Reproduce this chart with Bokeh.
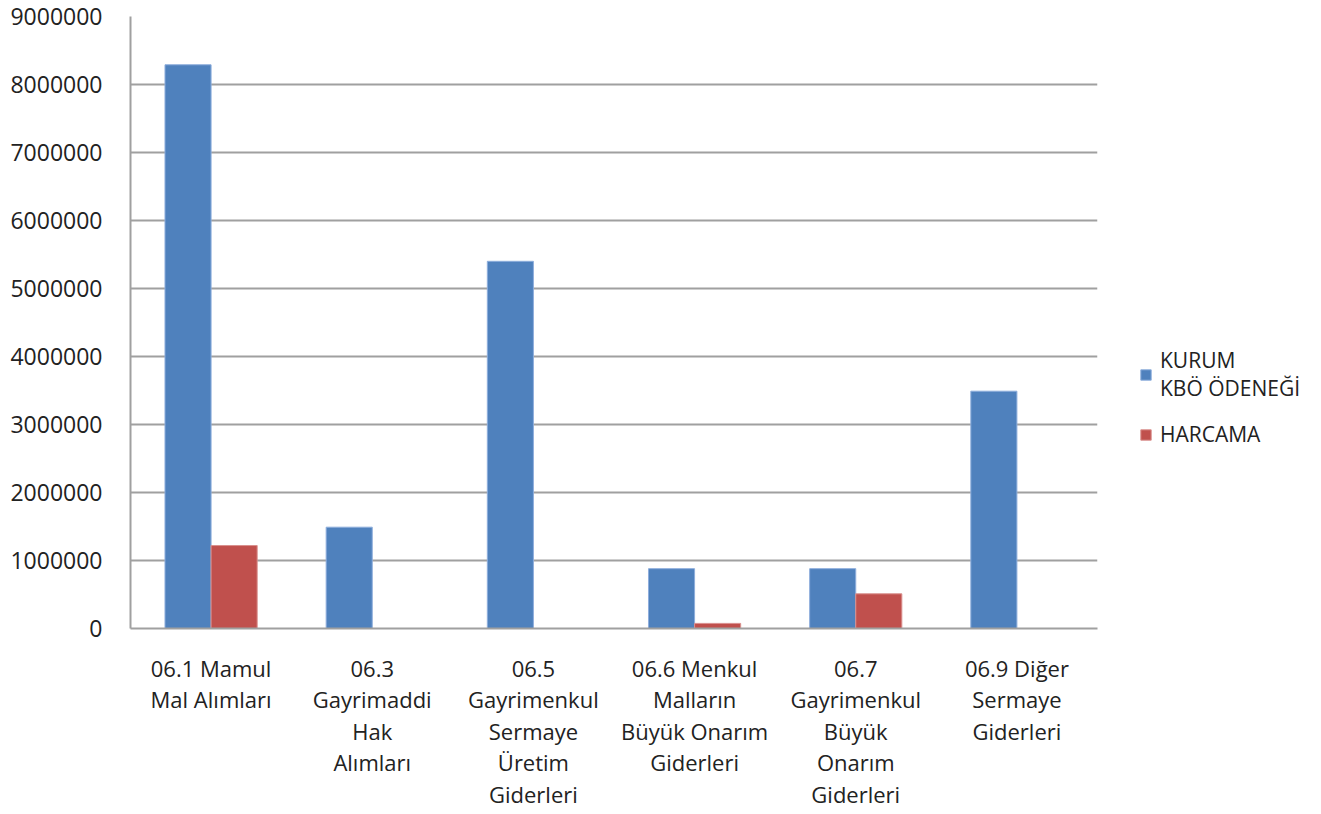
from bokeh.plotting import figure
from bokeh.models import ColumnDataSource, Legend, LegendItem, FixedTicker, NumeralTickFormatter, Range1d
from bokeh.transform import dodge
from bokeh.embed import file_html
from bokeh.resources import INLINE

categories = [
    "06.1 Mamul\nMal Alımları",
    "06.3\nGayrimaddi\nHak\nAlımları",
    "06.5\nGayrimenkul\nSermaye\nÜretim\nGiderleri",
    "06.6 Menkul\nMalların\nBüyük Onarım\nGiderleri",
    "06.7\nGayrimenkul\nBüyük\nOnarım\nGiderleri",
    "06.9 Diğer\nSermaye\nGiderleri",
]
kurum = [8290000, 1490000, 5400000, 880000, 880000, 3490000]
harcama = [1220000, 0, 0, 75000, 510000, 0]
series_names = ["KURUM\nKBÖ ÖDENEĞİ", "HARCAMA"]
y_ticks = [0, 1000000, 2000000, 3000000, 4000000, 5000000, 6000000, 7000000, 8000000, 9000000]

xs = list(range(len(categories)))
src = ColumnDataSource(dict(x=xs, kurum=kurum, harcama=harcama))

FONT = "Open Sans"
p = figure(frame_width=967, frame_height=612, output_backend="svg", toolbar_location=None,
           x_range=Range1d(-0.5, len(categories) - 0.5), y_range=Range1d(0, 9000000),
           min_border_left=130, min_border_right=0, min_border_top=16, min_border_bottom=170)
p.outline_line_color = None

bw = 0.286
r1 = p.vbar(x=dodge("x", -bw / 2, range=p.x_range), top="kurum", width=bw, source=src,
            fill_color="#4F81BD", line_color="#8EAEDC", line_width=1)
r2 = p.vbar(x=dodge("x", bw / 2, range=p.x_range), top="harcama", width=bw, source=src,
            fill_color="#C0504D", line_color="#D9908E", line_width=1)

p.xaxis.ticker = FixedTicker(ticks=xs)
p.xaxis.major_label_overrides = {i: c for i, c in enumerate(categories)}
p.xaxis.major_tick_line_color = None
p.xaxis.minor_tick_line_color = None
p.xaxis.axis_line_color = "#A0A0A0"
p.xaxis.axis_line_width = 2
p.xaxis.major_label_text_font = FONT
p.xaxis.major_label_text_font_size = "22px"
p.xaxis.major_label_text_color = "#222222"
p.xaxis.major_label_text_line_height = 1.05
p.xaxis.major_label_standoff = 18

p.yaxis.ticker = FixedTicker(ticks=y_ticks)
p.yaxis.formatter = NumeralTickFormatter(format="0")
p.yaxis.major_tick_line_color = None
p.yaxis.minor_tick_line_color = None
p.yaxis.axis_line_color = "#A0A0A0"
p.yaxis.axis_line_width = 2
p.yaxis.major_label_text_font = FONT
p.yaxis.major_label_text_font_size = "23px"
p.yaxis.major_label_text_color = "#222222"
p.yaxis.major_label_standoff = 22

p.xgrid.grid_line_color = None
p.ygrid.grid_line_color = "#A0A0A0"
p.ygrid.grid_line_width = 2

legend = Legend(items=[LegendItem(label=series_names[0], renderers=[r1]),
                       LegendItem(label=series_names[1], renderers=[r2])],
                location=(42, 180), border_line_color=None, background_fill_alpha=0,
                label_text_font=FONT, label_text_font_size="21px",
                label_text_line_height=1.12, label_standoff=8,
                label_text_color="#222222", glyph_width=13, glyph_height=13,
                spacing=18, margin=0, padding=0)
p.add_layout(legend, "right")
p.min_border_right = 220

open("out.html", "w").write(file_html(p, INLINE))
